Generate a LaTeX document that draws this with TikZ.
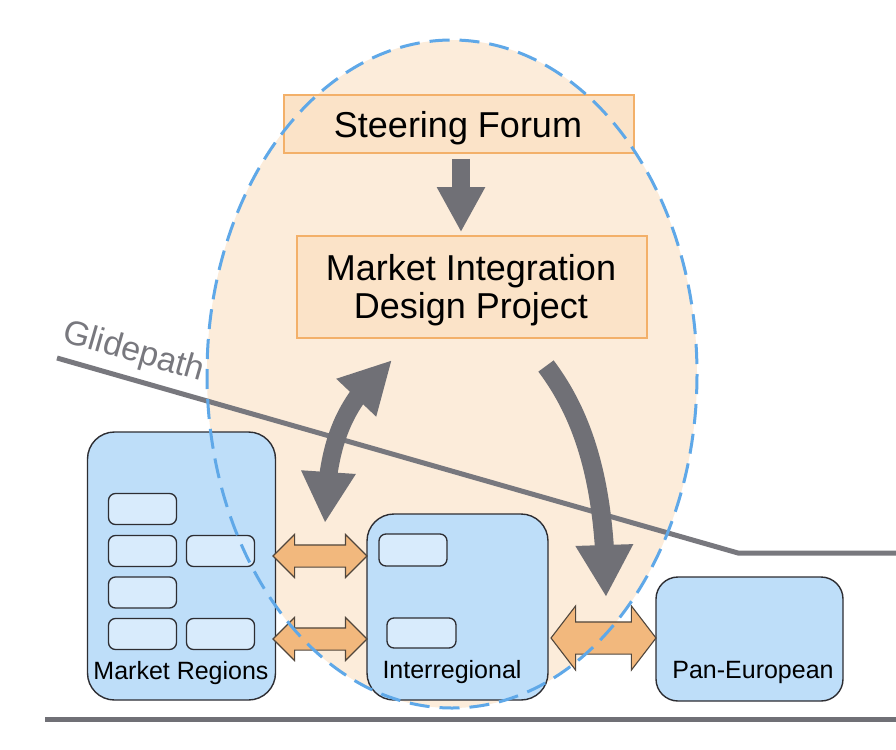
\documentclass[tikz,border=0pt]{standalone}
\usepackage{fontspec}
\setmainfont{Liberation Sans}
\usetikzlibrary{arrows.meta,shapes.arrows,calc,bending}
\definecolor{peachbg}{RGB}{252,236,218}
\definecolor{peachbox}{RGB}{251,227,200}
\definecolor{orangeline}{RGB}{243,176,105}
\definecolor{arrowgray}{RGB}{112,112,118}
\definecolor{linegray}{RGB}{120,120,126}
\definecolor{dashblue}{RGB}{95,168,232}
\definecolor{boxblue}{RGB}{190,222,249}
\definecolor{subblue}{RGB}{216,235,252}
\definecolor{arroworange}{RGB}{242,184,125}
\definecolor{edgedark}{RGB}{45,45,50}
\definecolor{linkedge}{RGB}{80,70,60}
\begin{document}
\begin{tikzpicture}[x=1pt,y=-1pt,
  topbox/.style={draw=orangeline, line width=1.6pt, fill=peachbox, inner sep=0pt},
  toptext/.style={font=\fontsize{36}{38}\selectfont, inner sep=0pt, anchor=base},
  region/.style={draw=edgedark, line width=1.4pt, fill=boxblue, rounded corners=27pt, inner sep=0pt},
  sub/.style={draw=edgedark, line width=1.3pt, fill=subblue, rounded corners=7pt, inner sep=0pt, minimum width=68pt, minimum height=31pt},
  lbl/.style={font=\fontsize{25}{28}\selectfont, inner sep=0pt, anchor=base},
  link/.style={double arrow, draw=linkedge, line width=1.1pt, fill=arroworange, inner sep=0pt},
  grayarrow/.style={draw=arrowgray, line width=18pt},
]
\useasboundingbox (0,0) rectangle (896,749);
\fill[white] (0,0) rectangle (896,749);
% ellipse background
\fill[peachbg] (452,374) ellipse [x radius=245, y radius=334];
% top boxes
\node[topbox, minimum width=350pt, minimum height=58pt] (sf) at (459,124) {};
\node[toptext] (sft) at (458,137) {Steering Forum};
\node[topbox, minimum width=350pt, minimum height=102pt] (mid) at (472,287) {};
\node[toptext] (midt1) at (471,280) {Market Integration};
\node[toptext] (midt2) at (471,318) {Design Project};
\draw[grayarrow, -{Triangle[width=45pt,length=45pt]}] ([xshift=2pt,yshift=-5pt]sf.south) -- ([xshift=-11pt,yshift=3pt]mid.north);
% glidepath
\coordinate (g0) at (57,358);
\coordinate (g1) at (738,553);
\coordinate (g2) at (896,553);
\draw[linegray, line width=5pt] (g0) -- (g1) -- (g2);
\node[font=\fontsize{34}{34}\selectfont, text=linegray, rotate=-16, anchor=base west, inner sep=0pt] (gl) at (61,341) {Glidepath};
% bottom line
\coordinate (b0) at (45,719);
\coordinate (b1) at (896,719);
\draw[arrowgray, line width=5pt] (b0) -- (b1);
% regions
\node[region, minimum width=188pt, minimum height=268pt] (mr) at (181.5,566) {};
\node[region, minimum width=181pt, minimum height=186pt] (ir) at (457.5,607) {};
\node[region, rounded corners=22pt, minimum width=187pt, minimum height=124pt] (pe) at (749.5,639) {};
\node[sub] (s1) at (142.5,509) {};
\node[sub] (s2) at (142.5,551) {};
\node[sub] (s3) at (220.5,551) {};
\node[sub] (s4) at (142.5,592.5) {};
\node[sub] (s5) at (142.5,634) {};
\node[sub] (s6) at (220.5,634) {};
\node[sub, minimum height=32pt] (i1) at (413,550) {};
\node[sub, minimum height=30pt, minimum width=69pt] (i2) at (421.5,633) {};
\node[lbl] (mrl) at (181,679) {Market Regions};
\node[lbl] (irl) at (452,678) {Interregional};
\node[lbl] (pel) at (753,678) {Pan-European};
% orange links
\node[link, minimum height=94pt, double arrow head extend=10.5pt] (l1) at (320,556) {\rule{0pt}{21pt}};
\node[link, minimum height=94pt, double arrow head extend=10.5pt] (l2) at (320,639) {\rule{0pt}{21pt}};
\node[link, minimum height=105pt, double arrow head extend=16pt, double arrow tip angle=105] (l3) at (603.5,638) {\rule{0pt}{31pt}};
% curved gray arrows
\coordinate (ta) at (325,523);
\coordinate (tb) at (392,360);
\draw[grayarrow, {Triangle[width=51pt,length=51pt]}-{Triangle[width=51pt,length=52pt]}] (ta) .. controls (326,440) and (346,399) .. (tb);
\coordinate (ra) at (546,366);
\coordinate (rb) at (606,597);
\draw[grayarrow, line width=19pt, -{Triangle[width=54pt,length=52pt]}] (ra) .. controls (582,414) and (606,480) .. (rb);
% dashed outline on top
\draw[dashblue, line width=3pt, dash pattern=on 20pt off 10pt] (452,374) ellipse [x radius=245, y radius=334];
\end{tikzpicture}
\end{document}
